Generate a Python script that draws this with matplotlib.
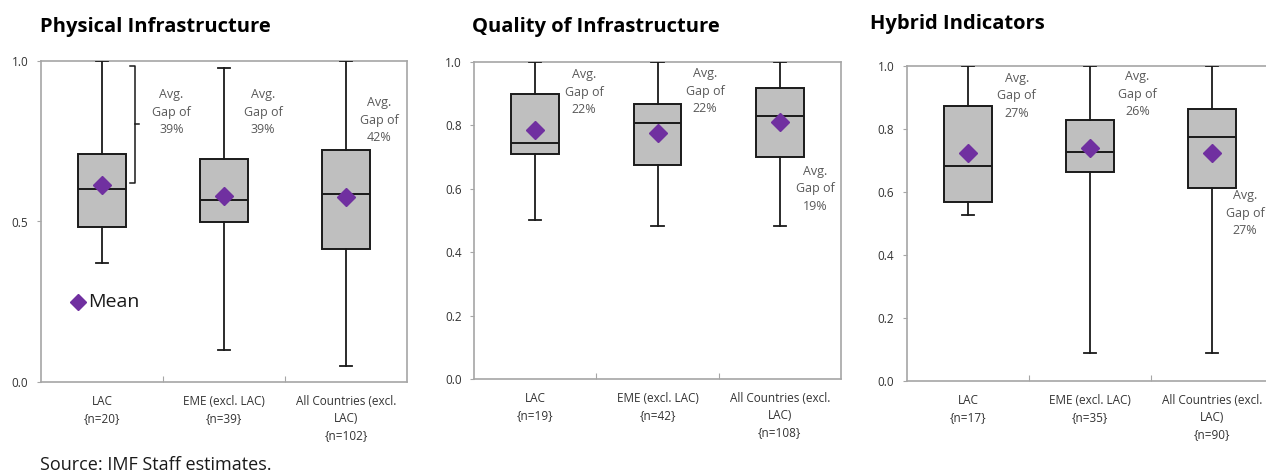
import matplotlib.pyplot as plt

plt.rcParams['font.family'] = ['Open Sans', 'DejaVu Sans']

# categories and sample sizes per panel
groups = ['LAC', 'EME (excl. LAC)', 'All Countries (excl.\nLAC)']
n_phys = [20, 39, 102]
n_qual = [19, 42, 108]
n_hybr = [17, 35, 90]

# box stats: whisker low, q1, median, q3, whisker high, mean
phys_lo = [0.371, 0.100, 0.050]
phys_q1 = [0.483, 0.498, 0.414]
phys_med = [0.601, 0.567, 0.585]
phys_q3 = [0.710, 0.695, 0.723]
phys_hi = [1.000, 0.978, 1.000]
phys_mean = [0.614, 0.579, 0.576]
phys_gap = ['39%', '39%', '42%']

qual_lo = [0.502, 0.483, 0.483]
qual_q1 = [0.709, 0.676, 0.699]
qual_med = [0.745, 0.807, 0.830]
qual_q3 = [0.899, 0.867, 0.919]
qual_hi = [1.000, 1.000, 1.000]
qual_mean = [0.786, 0.777, 0.810]
qual_gap = ['22%', '22%', '19%']

hybr_lo = [0.527, 0.090, 0.090]
hybr_q1 = [0.569, 0.663, 0.612]
hybr_med = [0.683, 0.728, 0.775]
hybr_q3 = [0.873, 0.828, 0.865]
hybr_hi = [1.000, 1.000, 1.000]
hybr_mean = [0.725, 0.740, 0.725]
hybr_gap = ['27%', '26%', '27%']

GRAY = '#595959'
FRAME = '#a6a6a6'
PURPLE = '#7030a0'

W, H = 1266, 473
fig = plt.figure(figsize=(W / 100, H / 100), dpi=100)


def make_panel(rect, title, title_xy, lo, q1, med, q3, hi, mean, ns, yticks, ylabels,
               gap_labels, gap_pos):
    ax = fig.add_axes(rect)
    stats = []
    for i in range(3):
        stats.append(dict(whislo=lo[i], q1=q1[i], med=med[i], q3=q3[i],
                          whishi=hi[i], mean=mean[i]))
    pos = [1, 2, 3]
    ax.bxp(stats, positions=pos, widths=0.39, patch_artist=True, showmeans=True,
           showfliers=False,
           boxprops=dict(facecolor='#bfbfbf', edgecolor='#1a1a1a', linewidth=1.4),
           medianprops=dict(color='#1a1a1a', linewidth=1.4),
           whiskerprops=dict(color='#1a1a1a', linewidth=1.3),
           capprops=dict(color='#1a1a1a', linewidth=1.3),
           capwidths=0.1,
           meanprops=dict(marker='D', markerfacecolor=PURPLE, markeredgecolor=PURPLE,
                          markersize=9.5), zorder=3)
    ax.set_xlim(0.5, 3.5)
    ax.set_ylim(0, 1)
    ax.set_yticks(yticks)
    ax.set_yticklabels(ylabels, fontsize=8.5, color='#333333')
    ax.set_xticks([1.5, 2.5], minor=False)
    ax.set_xticklabels([])
    ax.tick_params(axis='x', direction='in', length=4, color=FRAME)
    ax.tick_params(axis='y', direction='out', length=3, color=FRAME, pad=6)
    for s in ax.spines.values():
        s.set_color(FRAME)
        s.set_linewidth(1.2)
    for i in range(3):
        ax.text(pos[i], -0.04, groups[i] + '\n{n=%d}' % ns[i], ha='center', va='top',
                fontsize=8.5, color='#333333', linespacing=1.4, clip_on=False)
    for i in range(3):
        gx, gy = gap_pos[i]
        ax.text(gx, gy, 'Avg.\nGap of\n' + gap_labels[i], ha='center', va='center',
                fontsize=9, color=GRAY, linespacing=1.45, clip_on=False)
    fig.text(title_xy[0] / W, 1 - title_xy[1] / H, title, fontsize=14.5, fontweight='bold',
             ha='left', va='center')
    return ax


ax1 = make_panel([41 / W, 1 - 382 / H, 366 / W, 321 / H], 'Physical Infrastructure', (40, 27),
                 phys_lo, phys_q1, phys_med, phys_q3, phys_hi, phys_mean, n_phys,
                 [0, 0.5, 1.0], ['0.0', '0.5', '1.0'], phys_gap,
                 [(1.57, 0.84), (2.32, 0.84), (3.27, 0.815)])

# bracket marking the LAC gap
bx = 1.27
ax1.plot([bx - 0.04, bx, bx, bx - 0.04], [0.984, 0.984, 0.62, 0.62], color='#1a1a1a', lw=1.1)
ax1.plot([bx, bx + 0.03], [0.805, 0.805], color='#1a1a1a', lw=1.1)

# mean legend
ax1.plot([0.8], [0.25], marker='D', color=PURPLE, markersize=8, linestyle='none')
ax1.text(0.89, 0.25, 'Mean', fontsize=14, va='center', ha='left', color='#1a1a1a')

make_panel([474 / W, 1 - 379 / H, 367 / W, 317 / H], 'Quality of Infrastructure', (472, 27),
           qual_lo, qual_q1, qual_med, qual_q3, qual_hi, qual_mean, n_qual,
           [0, 0.2, 0.4, 0.6, 0.8, 1.0], ['0.0', '0.2', '0.4', '0.6', '0.8', '1.0'], qual_gap,
           [(1.4, 0.905), (2.39, 0.908), (3.29, 0.60)])

make_panel([907 / W, 1 - 381 / H, 366 / W, 315 / H], 'Hybrid Indicators', (870, 24),
           hybr_lo, hybr_q1, hybr_med, hybr_q3, hybr_hi, hybr_mean, n_hybr,
           [0, 0.2, 0.4, 0.6, 0.8, 1.0], ['0.0', '0.2', '0.4', '0.6', '0.8', '1.0'], hybr_gap,
           [(1.4, 0.905), (2.39, 0.911), (3.27, 0.533)])

fig.text(40 / W, 1 - 465 / H, 'Source: IMF Staff estimates.', fontsize=13, color='#1a1a1a',
         ha='left', va='center')

fig.savefig('out.png', dpi=100)
